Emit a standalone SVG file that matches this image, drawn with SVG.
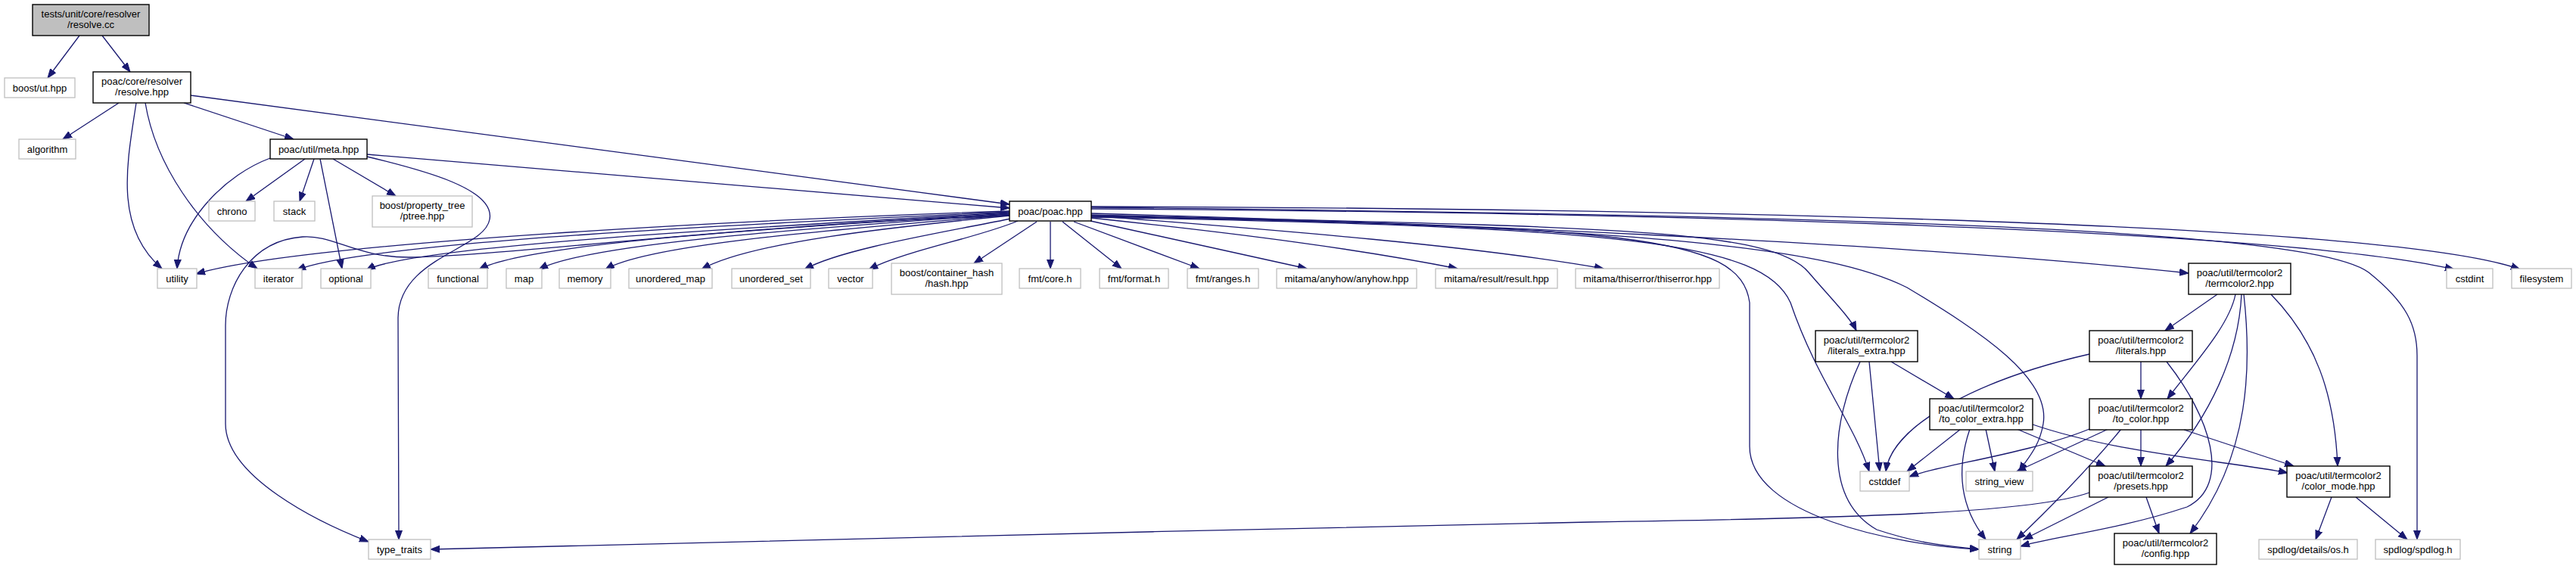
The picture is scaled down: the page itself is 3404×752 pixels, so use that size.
<svg xmlns="http://www.w3.org/2000/svg" width="3404" height="752" viewBox="0 0 3404 752">
<defs>
<style>
.n rect{fill:#fff;stroke:#bfbfbf;stroke-width:1.3}
.d rect{fill:#fff;stroke:#000;stroke-width:1.4}
.r rect{fill:#bfbfbf;stroke:#000;stroke-width:1.4}
text{font-family:"Liberation Sans",Arial,sans-serif;font-size:13px;fill:#000;text-anchor:middle}
#edges path{fill:none;stroke:#191970;stroke-width:1.3;marker-end:url(#ah)}
</style>
<marker id="ah" markerUnits="userSpaceOnUse" markerWidth="14" markerHeight="11" refX="12" refY="5" orient="auto">
<path d="M0,0.5 L12,5 L0,9.5 z" fill="#191970" stroke="#191970" stroke-width="1"/>
</marker>
</defs>
<rect width="3404" height="752" fill="#fff"/>
<g id="edges">
<path d="M105,47 L63,103"/>
<path d="M135,47 L172,95"/>
<path d="M157,136 L83,184"/>
<path d="M243,136 L388,184"/>
<path d="M180,136 C168,215 150,300 214,355"/>
<path d="M192,136 C205,215 260,300 340,355"/>
<path d="M252,126 L1334,270"/>
<path d="M485,204 L1334,275"/>
<path d="M403,210 L325,266"/>
<path d="M415,210 L396,266"/>
<path d="M423,210 L452,355"/>
<path d="M440,210 L523,259"/>
<path d="M357,209 C300,230 238,290 234,355"/>
<path d="M485,207 C560,225 655,250 647,290 C640,330 527,340 526,420 L527,713"/>
<path d="M1334,279 C1000,290 400,320 259,362"/>
<path d="M1334,280 C1000,295 480,320 392,357"/>
<path d="M1334,281 C1000,300 540,325 484,357"/>
<path d="M1334,282 C1050,300 700,320 633,356"/>
<path d="M1334,283 C1100,300 780,320 712,356"/>
<path d="M1334,284 C1150,300 860,320 800,356"/>
<path d="M1334,285 C1180,300 990,320 927,356"/>
<path d="M1336,289 C1230,310 1110,330 1063,356"/>
<path d="M1345,292 C1290,315 1200,330 1148,356"/>
<path d="M1370,293 L1287,348"/>
<path d="M1388,293 L1388,355"/>
<path d="M1404,293 L1482,355"/>
<path d="M1419,293 L1585,355"/>
<path d="M1441,292 L1727,355"/>
<path d="M1442,288 C1650,310 1800,330 1926,355"/>
<path d="M1442,285 C1700,305 1950,325 2119,355"/>
<path d="M1442,282 C1900,295 2500,320 2892,361"/>
<path d="M1442,276 C2100,280 3000,300 3243,356"/>
<path d="M1442,273 C2100,275 3150,290 3330,356"/>
<path d="M1442,274 C2400,285 3050,300 3130,360 C3180,400 3194,430 3194,470 L3194,713"/>
<path d="M1442,284 C2100,300 2340,300 2390,360 C2420,395 2445,420 2453,437"/>
<path d="M1442,286 C2150,300 2300,310 2312,400 L2312,590 C2312,680 2500,720 2615,726"/>
<path d="M1442,287 C2150,300 2330,320 2366,400 C2400,500 2450,560 2470,623"/>
<path d="M1442,285 C2200,300 2420,330 2520,380 C2620,440 2710,500 2700,560 C2695,590 2680,605 2668,623"/>
<path d="M1334,285 C1000,295 650,340 540,340 C470,340 440,310 400,313 C330,318 298,380 298,430 L298,560 C298,630 420,690 487,716"/>
<path d="M2930,389 L2861,437"/>
<path d="M2954,389 C2946,430 2900,480 2864,527"/>
<path d="M2962,389 C2958,470 2920,550 2862,616"/>
<path d="M2965,389 C2975,480 2975,600 2894,705"/>
<path d="M3001,389 C3060,450 3085,520 3089,616"/>
<path d="M2761,468 C2620,500 2500,560 2492,623"/>
<path d="M2829,478 L2829,527"/>
<path d="M2863,478 C2920,550 2950,640 2890,670 C2800,700 2710,710 2670,722"/>
<path d="M2470,478 L2484,623"/>
<path d="M2458,478 C2420,560 2410,660 2480,700 C2540,720 2580,722 2615,726"/>
<path d="M2499,478 L2582,527"/>
<path d="M2591,567 L2520,623"/>
<path d="M2624,567 L2636,623"/>
<path d="M2603,567 C2585,620 2590,670 2624,713"/>
<path d="M2665,567 L2782,616"/>
<path d="M2686,561 C2800,600 2950,610 3023,625"/>
<path d="M2761,567 C2680,600 2560,615 2523,630"/>
<path d="M2786,567 L2665,623"/>
<path d="M2803,567 C2760,620 2700,680 2665,713"/>
<path d="M2829,568 L2829,616"/>
<path d="M2886,568 L3031,616"/>
<path d="M2761,651 C2690,676 2500,684 2100,690 C1600,700 900,718 569,726"/>
<path d="M2786,657 L2674,713"/>
<path d="M2836,657 L2853,705"/>
<path d="M3081,657 L3060,713"/>
<path d="M3113,657 L3181,713"/>
</g>
<g id="resolve_cc" class="r"><rect x="43" y="6" width="154" height="41"/><text x="120" y="22.5">tests/unit/core/resolver</text><text x="120" y="37">/resolve.cc</text></g>
<g id="boost_ut" class="n"><rect x="6" y="103" width="93" height="26"/><text x="52.5" y="120.5">boost/ut.hpp</text></g>
<g id="resolve_hpp" class="d"><rect x="123" y="95" width="129" height="41"/><text x="187.5" y="111.5">poac/core/resolver</text><text x="187.5" y="126">/resolve.hpp</text></g>
<g id="algorithm" class="n"><rect x="25" y="184" width="75" height="26"/><text x="62.5" y="201.5">algorithm</text></g>
<g id="meta" class="d"><rect x="357" y="184" width="128" height="26"/><text x="421" y="201.5">poac/util/meta.hpp</text></g>
<g id="chrono" class="n"><rect x="276" y="266" width="61" height="26"/><text x="306.5" y="283.5">chrono</text></g>
<g id="stack" class="n"><rect x="362" y="266" width="54" height="26"/><text x="389" y="283.5">stack</text></g>
<g id="ptree" class="n"><rect x="492" y="259" width="132" height="41"/><text x="558" y="275.5">boost/property_tree</text><text x="558" y="290">/ptree.hpp</text></g>
<g id="poac" class="d"><rect x="1334" y="266" width="108" height="26"/><text x="1388" y="283.5">poac/poac.hpp</text></g>
<g id="utility" class="n"><rect x="208" y="355" width="52" height="26"/><text x="234" y="372.5">utility</text></g>
<g id="iterator" class="n"><rect x="337" y="355" width="62" height="26"/><text x="368" y="372.5">iterator</text></g>
<g id="optional" class="n"><rect x="424" y="355" width="66" height="26"/><text x="457" y="372.5">optional</text></g>
<g id="functional" class="n"><rect x="566" y="355" width="78" height="26"/><text x="605" y="372.5">functional</text></g>
<g id="map" class="n"><rect x="669" y="355" width="47" height="26"/><text x="692.5" y="372.5">map</text></g>
<g id="memory" class="n"><rect x="739" y="355" width="68" height="26"/><text x="773" y="372.5">memory</text></g>
<g id="unordered_map" class="n"><rect x="831" y="355" width="110" height="26"/><text x="886" y="372.5">unordered_map</text></g>
<g id="unordered_set" class="n"><rect x="967" y="355" width="104" height="26"/><text x="1019" y="372.5">unordered_set</text></g>
<g id="vector" class="n"><rect x="1095" y="355" width="58" height="26"/><text x="1124" y="372.5">vector</text></g>
<g id="hash" class="n"><rect x="1178" y="348" width="146" height="41"/><text x="1251" y="364.5">boost/container_hash</text><text x="1251" y="379">/hash.hpp</text></g>
<g id="fmt_core" class="n"><rect x="1347" y="355" width="81" height="26"/><text x="1387.5" y="372.5">fmt/core.h</text></g>
<g id="fmt_format" class="n"><rect x="1453" y="355" width="91" height="26"/><text x="1498.5" y="372.5">fmt/format.h</text></g>
<g id="fmt_ranges" class="n"><rect x="1569" y="355" width="94" height="26"/><text x="1616" y="372.5">fmt/ranges.h</text></g>
<g id="anyhow" class="n"><rect x="1687" y="355" width="185" height="26"/><text x="1779.5" y="372.5">mitama/anyhow/anyhow.hpp</text></g>
<g id="result" class="n"><rect x="1897" y="355" width="161" height="26"/><text x="1977.5" y="372.5">mitama/result/result.hpp</text></g>
<g id="thiserror" class="n"><rect x="2082" y="355" width="190" height="26"/><text x="2177" y="372.5">mitama/thiserror/thiserror.hpp</text></g>
<g id="termcolor2" class="d"><rect x="2892" y="348" width="135" height="41"/><text x="2959.5" y="364.5">poac/util/termcolor2</text><text x="2959.5" y="379">/termcolor2.hpp</text></g>
<g id="cstdint" class="n"><rect x="3233" y="355" width="61" height="26"/><text x="3263.5" y="372.5">cstdint</text></g>
<g id="filesystem" class="n"><rect x="3319" y="355" width="79" height="26"/><text x="3358.5" y="372.5">filesystem</text></g>
<g id="literals_extra" class="d"><rect x="2399" y="437" width="135" height="41"/><text x="2466.5" y="453.5">poac/util/termcolor2</text><text x="2466.5" y="468">/literals_extra.hpp</text></g>
<g id="literals" class="d"><rect x="2761" y="437" width="136" height="41"/><text x="2829" y="453.5">poac/util/termcolor2</text><text x="2829" y="468">/literals.hpp</text></g>
<g id="to_color_extra" class="d"><rect x="2550" y="527" width="136" height="41"/><text x="2618" y="543.5">poac/util/termcolor2</text><text x="2618" y="558">/to_color_extra.hpp</text></g>
<g id="to_color" class="d"><rect x="2761" y="527" width="136" height="41"/><text x="2829" y="543.5">poac/util/termcolor2</text><text x="2829" y="558">/to_color.hpp</text></g>
<g id="cstddef" class="n"><rect x="2458" y="623" width="65" height="26"/><text x="2490.5" y="640.5">cstddef</text></g>
<g id="string_view" class="n"><rect x="2598" y="623" width="88" height="26"/><text x="2642" y="640.5">string_view</text></g>
<g id="presets" class="d"><rect x="2761" y="616" width="136" height="41"/><text x="2829" y="632.5">poac/util/termcolor2</text><text x="2829" y="647">/presets.hpp</text></g>
<g id="color_mode" class="d"><rect x="3022" y="616" width="136" height="41"/><text x="3090" y="632.5">poac/util/termcolor2</text><text x="3090" y="647">/color_mode.hpp</text></g>
<g id="type_traits" class="n"><rect x="487" y="713" width="82" height="26"/><text x="528" y="730.5">type_traits</text></g>
<g id="string" class="n"><rect x="2615" y="713" width="55" height="26"/><text x="2642.5" y="730.5">string</text></g>
<g id="config" class="d"><rect x="2794" y="705" width="135" height="41"/><text x="2861.5" y="721.5">poac/util/termcolor2</text><text x="2861.5" y="736">/config.hpp</text></g>
<g id="spdlog_os" class="n"><rect x="2985" y="713" width="130" height="26"/><text x="3050" y="730.5">spdlog/details/os.h</text></g>
<g id="spdlog" class="n"><rect x="3139" y="713" width="112" height="26"/><text x="3195" y="730.5">spdlog/spdlog.h</text></g>
</svg>
